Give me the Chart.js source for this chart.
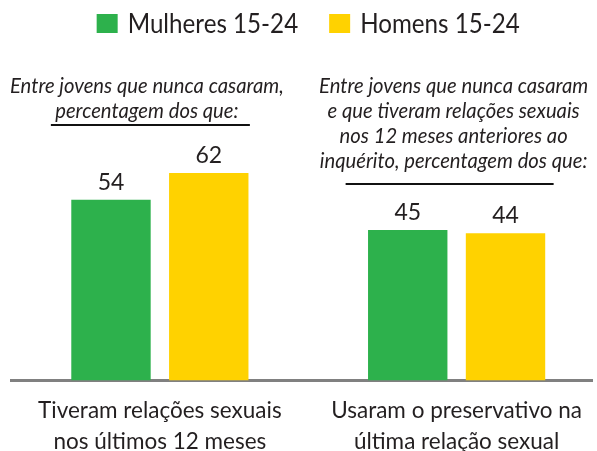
<!DOCTYPE html>
<html>
<head>
<meta charset="utf-8">
<script src="https://cdn.jsdelivr.net/npm/chart.js@4.4.1/dist/chart.umd.min.js"></script>
<style>
  html, body { margin: 0; padding: 0; background: #ffffff; }
  #wrap { width: 597px; height: 451px; }
</style>
</head>
<body>
<div id="wrap"><canvas id="c" width="597" height="451"></canvas></div>
<script>
// ---- data ----
const categories = [
  ["Tiveram relações sexuais", "nos últimos 12 meses"],
  ["Usaram o preservativo na", "última relação sexual"]
];
const seriesNames = ["Mulheres 15-24", "Homens 15-24"];
const mulheres = [54, 45];
const homens = [62, 44];
const leftNote = ["Entre jovens que nunca casaram,", "percentagem dos que:"];
const rightNote = [
  "Entre jovens que nunca casaram",
  "e que tiveram relações sexuais",
  "nos 12 meses anteriores ao",
  "inquérito, percentagem dos que:"
];

const GREEN = "#2db14c";
const YELLOW = "#ffd200";
const TEXT = "#231f20";
const FONT = "Lato";

// legend drawn from the datasets (label + colour)
const topLegend = {
  id: "topLegend",
  afterDraw(chart) {
    const ctx = chart.ctx;
    const center = chart.scales.x.getPixelForValue(0.5);
    const sq = 0.93, boxW = 21, boxH = 19, gapText = 10, gapItem = 31;
    ctx.save();
    ctx.font = "26px " + FONT;
    const items = chart.data.datasets.map(ds => ({
      text: ds.label, color: ds.backgroundColor,
      w: ctx.measureText(ds.label).width * sq
    }));
    let total = 0;
    items.forEach((it, i) => { total += boxW + gapText + it.w + (i ? gapItem : 0); });
    let x = center - total / 2;
    ctx.textAlign = "left";
    ctx.textBaseline = "alphabetic";
    items.forEach(it => {
      ctx.fillStyle = it.color;
      ctx.fillRect(x, 14, boxW, boxH);
      ctx.fillStyle = TEXT;
      ctx.save();
      ctx.translate(x + boxW + gapText, 32.5);
      ctx.scale(sq, 1);
      ctx.fillText(it.text, 0, 0);
      ctx.restore();
      x += boxW + gapText + it.w + gapItem;
    });
    ctx.restore();
  }
};

// value labels above bars
const valueLabels = {
  id: "valueLabels",
  afterDatasetsDraw(chart) {
    const ctx = chart.ctx;
    ctx.save();
    ctx.font = "23px " + FONT;
    ctx.fillStyle = TEXT;
    ctx.textAlign = "center";
    ctx.textBaseline = "alphabetic";
    chart.data.datasets.forEach((ds, di) => {
      const meta = chart.getDatasetMeta(di);
      meta.data.forEach((el, i) => {
        ctx.fillText(String(ds.data[i].y), el.x, el.y - 10);
      });
    });
    ctx.restore();
  }
};

// italic notes with underline above each group
const notes = {
  id: "notes",
  afterDraw(chart) {
    const ctx = chart.ctx;
    const xs = chart.scales.x;
    const c0 = xs.getPixelForValue(0);
    const c1 = xs.getPixelForValue(1);
    const squeeze = 0.92;
    function drawLines(lines, cx, y0, step) {
      lines.forEach((t, i) => {
        ctx.save();
        ctx.translate(cx, y0 + i * step);
        ctx.scale(squeeze, 1);
        ctx.fillText(t, 0, 0);
        ctx.restore();
      });
    }
    ctx.save();
    ctx.font = "italic 22px " + FONT;
    ctx.fillStyle = TEXT;
    ctx.textAlign = "center";
    ctx.textBaseline = "alphabetic";
    drawLines(leftNote, c0 - 13, 93, 25);
    drawLines(rightNote, c1 - 3, 93, 25);
    ctx.strokeStyle = "#111111";
    ctx.lineWidth = 2;
    ctx.beginPath();
    ctx.moveTo(c0 - 109, 125); ctx.lineTo(c0 + 90, 125);
    ctx.moveTo(c1 - 111, 184); ctx.lineTo(c1 + 97, 184);
    ctx.stroke();
    ctx.restore();
  }
};

new Chart(document.getElementById("c"), {
  type: "bar",
  data: {
    datasets: [
      { label: seriesNames[0], data: mulheres.map((v, i) => ({ x: i, y: v })), backgroundColor: GREEN, borderWidth: 0 },
      { label: seriesNames[1], data: homens.map((v, i) => ({ x: i, y: v })), backgroundColor: YELLOW, borderWidth: 0 }
    ]
  },
  options: {
    responsive: false,
    devicePixelRatio: 1,
    animation: false,
    categoryPercentage: 0.659,
    barPercentage: 0.812,
    layout: { autoPadding: false, padding: { top: 46, left: 11.5, right: 0, bottom: 0 } },
    plugins: {
      legend: { display: false },
      tooltip: { enabled: false }
    },
    scales: {
      x: {
        type: "linear",
        min: -0.5,
        max: 1.458,
        offset: false,
        afterBuildTicks: (scale) => { scale.ticks = categories.map((c, i) => ({ value: i })); },
        afterFit: (scale) => { scale.height -= 21.5; },
        grid: { display: false, drawTicks: false },
        border: { display: true, color: "#808080", width: 3 },
        ticks: {
          color: TEXT,
          padding: 15,
          maxRotation: 0,
          autoSkip: false,
          callback: (value) => categories[value],
          font: { family: FONT, size: 22.5, lineHeight: 31 / 22.5 }
        }
      },
      y: {
        display: false,
        min: 0,
        max: 100
      }
    }
  },
  plugins: [topLegend, valueLabels, notes]
});
</script>
</body>
</html>
